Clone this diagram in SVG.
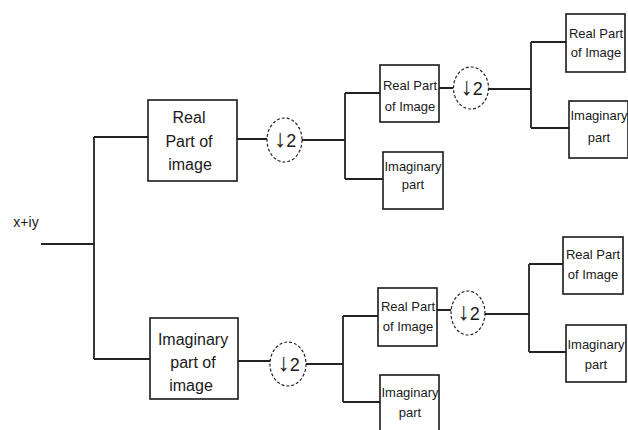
<svg xmlns="http://www.w3.org/2000/svg" width="628" height="430" viewBox="0 0 628 430">
<style>
.box{fill:#fff;stroke:#1a1a1a;stroke-width:1.6}
.ds{fill:#fff;stroke:#222;stroke-width:1.2;stroke-dasharray:3 2}
.ln{fill:none;stroke:#222;stroke-width:1.8}
text{font-family:"Liberation Sans",Arial,sans-serif;fill:#1a1a1a;text-anchor:middle}
.b{font-size:16px}
.s{font-size:13px}
.d{font-size:18px}
.ar{font-size:25px}
</style>
<rect width="628" height="430" fill="#fff"/>
<g id="connectors">
<path class="ln" d="M41 244H94M94 137V359M94 137H148M94 359H150"/>
<path class="ln" d="M237 139H267M302 140H345M345 93V179M345 93H380M345 179H383"/>
<path class="ln" d="M439 88H453M488 89H531M531 42V128M531 42H566M531 128H569"/>
<path class="ln" d="M238 361H270M306 364H343M343 316V402M343 316H378M343 402H380"/>
<path class="ln" d="M437 310H451M485 314H529M529 264V352M529 264H563M529 352H566"/>
</g>
<g id="input"><text x="26" y="227" style="font-size:14px">x+iy</text></g>
<g id="real1"><rect class="box" x="148" y="100" width="89" height="81"/>
<text class="b" x="189" y="123">Real</text><text class="b" x="189" y="147">Part of</text><text class="b" x="190" y="170">image</text></g>
<g id="imag1"><rect class="box" x="150" y="318" width="88" height="81"/>
<text class="b" x="193" y="345">Imaginary</text><text class="b" x="193" y="368">part of</text><text class="b" x="191" y="391">image</text></g>
<g id="ds1"><ellipse class="ds" cx="284.5" cy="140" rx="17.5" ry="22"/><text class="d" x="285" y="147"><tspan class="ar">↓</tspan>2</text></g>
<g id="ds2"><ellipse class="ds" cx="288" cy="364" rx="18" ry="22"/><text class="d" x="288.5" y="371"><tspan class="ar">↓</tspan>2</text></g>
<g id="ds3"><ellipse class="ds" cx="471" cy="88" rx="17.5" ry="21"/><text class="d" x="471.5" y="95"><tspan class="ar">↓</tspan>2</text></g>
<g id="ds4"><ellipse class="ds" cx="468" cy="313" rx="17" ry="22"/><text class="d" x="468.5" y="320"><tspan class="ar">↓</tspan>2</text></g>
<g id="real2"><rect class="box" x="380" y="65" width="59" height="57"/>
<text class="s" x="410" y="90">Real Part</text><text class="s" x="410" y="111">of Image</text></g>
<g id="imag2"><rect class="box" x="383" y="152" width="60" height="57"/>
<text class="s" x="413" y="171">Imaginary</text><text class="s" x="413" y="189">part</text></g>
<g id="real3"><rect class="box" x="566" y="14" width="59" height="58"/>
<text class="s" x="596" y="38">Real Part</text><text class="s" x="596" y="57">of Image</text></g>
<g id="imag3"><rect class="box" x="569" y="101" width="59" height="57"/>
<text class="s" x="599" y="120">Imaginary</text><text class="s" x="599" y="142">part</text></g>
<g id="real4"><rect class="box" x="378" y="288" width="59" height="58"/>
<text class="s" x="408" y="311">Real Part</text><text class="s" x="408" y="331">of Image</text></g>
<g id="imag4"><rect class="box" x="380" y="375" width="59" height="60"/>
<text class="s" x="410" y="397">Imaginary</text><text class="s" x="410" y="417">part</text></g>
<g id="real5"><rect class="box" x="563" y="237" width="60" height="57"/>
<text class="s" x="593" y="259">Real Part</text><text class="s" x="593" y="279">of Image</text></g>
<g id="imag5"><rect class="box" x="566" y="325" width="60" height="57"/>
<text class="s" x="596" y="349">Imaginary</text><text class="s" x="596" y="369">part</text></g>
</svg>
